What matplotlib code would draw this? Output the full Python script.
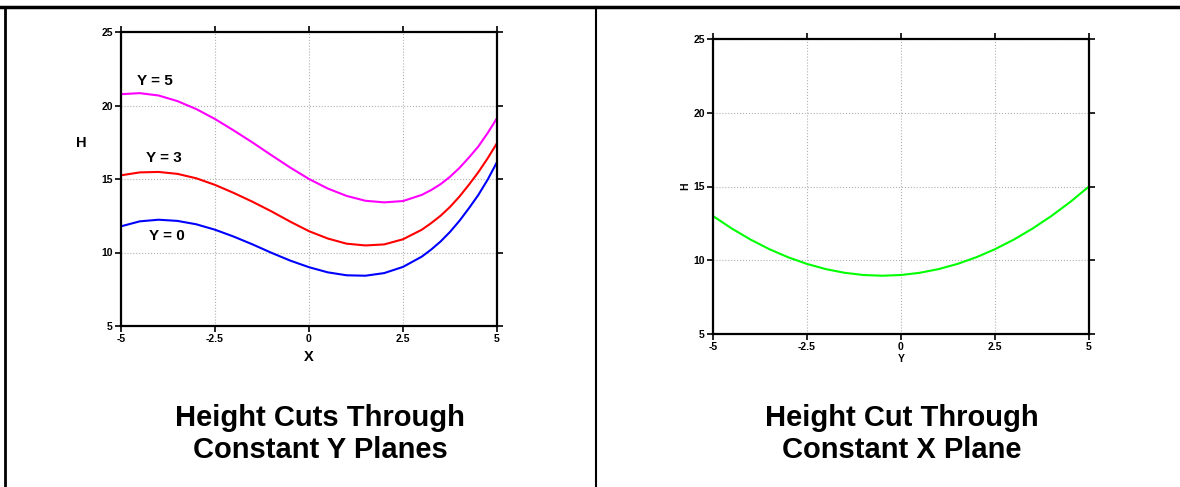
import numpy as np
import matplotlib
matplotlib.use("Agg")
import matplotlib.pyplot as plt
from matplotlib.lines import Line2D

plt.rcParams["font.family"] = ["Liberation Sans", "DejaVu Sans"]
plt.rcParams["font.weight"] = "bold"

# ─────────────────────────────────────────────
# DATA
# ─────────────────────────────────────────────

X_VALS = [-5.0, -4.5, -4.0, -3.5, -3.0, -2.5, -2.0, -1.5, -1.0, -0.5, 0.0,
          0.5, 1.0, 1.5, 2.0, 2.5, 3.0, 3.25, 3.5, 3.75, 4.0, 4.25, 4.5, 4.75, 5.0]

H_Y0 = [11.78, 12.12, 12.23, 12.15, 11.92, 11.55, 11.08, 10.55, 9.98, 9.45, 9.00,
        8.65, 8.45, 8.42, 8.60, 9.02, 9.72, 10.20, 10.75, 11.40, 12.15, 13.00,
        13.90, 14.95, 16.15]
H_Y3 = [15.25, 15.45, 15.48, 15.35, 15.05, 14.60, 14.05, 13.45, 12.80, 12.10, 11.45,
        10.95, 10.60, 10.48, 10.55, 10.90, 11.55, 12.00, 12.50, 13.10, 13.80, 14.60,
        15.45, 16.40, 17.44]
H_Y5 = [20.77, 20.84, 20.68, 20.30, 19.76, 19.08, 18.30, 17.48, 16.62, 15.78, 15.00,
        14.35, 13.85, 13.52, 13.41, 13.50, 13.92, 14.25, 14.65, 15.15, 15.75, 16.45,
        17.20, 18.12, 19.14]

Y_VALS = [-5.0, -4.5, -4.0, -3.5, -3.0, -2.5, -2.0, -1.5, -1.0, -0.5, 0.0,
          0.5, 1.0, 1.5, 2.0, 2.5, 3.0, 3.5, 4.0, 4.5, 5.0]
H_X0 = [13.00, 12.15, 11.40, 10.75, 10.20, 9.75, 9.40, 9.15, 9.00, 8.95, 9.00,
        9.15, 9.40, 9.75, 10.20, 10.75, 11.40, 12.15, 13.00, 13.95, 15.00]

CURVE_LABELS = ["Y = 0", "Y = 3", "Y = 5"]
CURVE_COLORS = ["#0000ff", "#ff0000", "#ff00ff"]
LABEL_POS = [(-3.78, 11.1), (-3.86, 16.4), (-4.1, 21.65)]

X_TICKS = [-5, -2.5, 0, 2.5, 5]
X_TICKLABELS = ["-5", "-2.5", "0", "2.5", "5"]
H_TICKS = [5, 10, 15, 20, 25]

TITLE_LEFT = "Height Cuts Through\nConstant Y Planes"
TITLE_RIGHT = "Height Cut Through\nConstant X Plane"


def style_axes(ax):
    ax.set_xlim(-5, 5)
    ax.set_ylim(5, 25)
    ax.set_xticks(X_TICKS)
    ax.set_xticklabels(X_TICKLABELS)
    ax.set_yticks(H_TICKS)
    ax.tick_params(direction="out", length=4, width=1.2, labelsize=7.5,
                   top=True, right=True, pad=2)
    for lab in ax.get_xticklabels() + ax.get_yticklabels():
        lab.set_fontweight("bold")
    for sp in ax.spines.values():
        sp.set_linewidth(1.6)
    ax.grid(True, color="#b0b0b0", linestyle=":", linewidth=0.8)


fig = plt.figure(figsize=(11.8, 4.87), dpi=100)

# table-like frame
fig.add_artist(Line2D([0, 1], [1 - 7 / 487] * 2, color="black", linewidth=2.5))
fig.add_artist(Line2D([5 / 1180] * 2, [0, 1 - 7 / 487], color="black", linewidth=2))
fig.add_artist(Line2D([596 / 1180] * 2, [0, 1 - 7 / 487], color="black", linewidth=1.5))

# ── left panel ───────────────────────────────
ax1 = fig.add_axes([121 / 1180, 1 - 326 / 487, 376 / 1180, 294 / 487])
for h, c, lab, pos in zip([H_Y0, H_Y3, H_Y5], CURVE_COLORS, CURVE_LABELS, LABEL_POS):
    ax1.plot(X_VALS, h, color=c, linewidth=1.5)
    ax1.text(pos[0], pos[1], lab, ha="center", va="center",
             fontsize=11, fontweight="bold")
style_axes(ax1)
ax1.set_xlabel("X", fontsize=10.5, fontweight="bold", labelpad=4)
ax1.set_ylabel("H", fontsize=10.5, fontweight="bold", rotation=0, labelpad=14)
ax1.yaxis.set_label_coords(-0.105, 0.6)

# ── right panel ──────────────────────────────
ax2 = fig.add_axes([713 / 1180, 1 - 334 / 487, 376 / 1180, 295 / 487])
ax2.plot(Y_VALS, H_X0, color="#00ff00", linewidth=1.5)
style_axes(ax2)
ax2.set_xlabel("Y", fontsize=7.5, fontweight="bold", labelpad=1)
ax2.set_ylabel("H", fontsize=7.5, fontweight="bold", labelpad=2)

fig.text(320 / 1180, 1 - 434 / 487, TITLE_LEFT, ha="center", va="center",
         fontsize=21, fontweight="bold", linespacing=1.18)
fig.text(902 / 1180, 1 - 434 / 487, TITLE_RIGHT, ha="center", va="center",
         fontsize=21, fontweight="bold", linespacing=1.18)

fig.savefig("out.png", dpi=100)
